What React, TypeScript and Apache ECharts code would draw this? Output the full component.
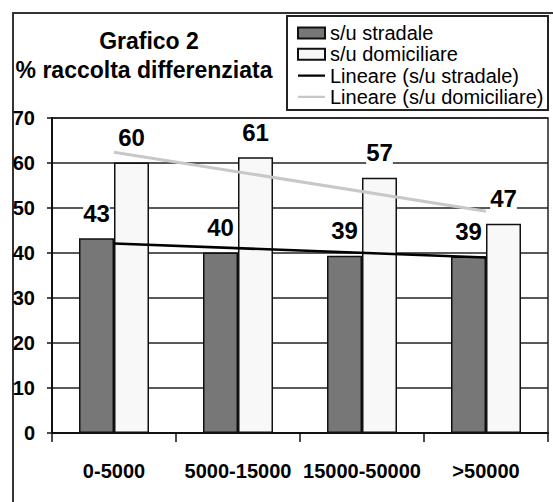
import React, { useEffect, useRef } from "react";
import * as echarts from "echarts";

const categories = ["0-5000", "5000-15000", "15000-50000", ">50000"];
const stradale = [43.3, 40.1, 39.4, 39.2];
const domiciliare = [60.1, 61.3, 56.7, 46.5];
// linear trendlines: value at first and last category
const trendStradale = [42.1, null, null, 39.0];
const trendDomiciliare = [62.4, null, null, 49.3];
const yTicks = { min: 0, max: 70, interval: 10 };
const seriesNames = [
  "s/u stradale",
  "s/u domiciliare",
  "Lineare (s/u stradale)",
  "Lineare (s/u domiciliare)",
];

const FONT = "'Liberation Sans', Arial, sans-serif";
const LINE_ICON =
  "path://M0,0 L0.01,0 L0,0 Z M0,4.3 L27,4.3 L27,6.7 L0,6.7 Z M27,11 L26.99,11 L27,11 Z";

export default function App() {
  const ref = useRef<HTMLDivElement>(null);
  useEffect(() => {
    if (!ref.current) return;
    const chart = echarts.init(ref.current, null, { renderer: "svg" });
    const barLabel = {
      show: true,
      position: "top",
      distance: 13,
      fontSize: 24,
      fontWeight: "bold",
      fontFamily: FONT,
      color: "#000",
      backgroundColor: "#fff",
      formatter: (p: any) => String(Math.round(p.value)),
    };
    chart.setOption({
      animation: false,
      backgroundColor: "#fff",
      textStyle: { fontFamily: FONT },
      graphic: [
        {
          type: "rect",
          z: -10,
          shape: { x: 13, y: 13, width: 600, height: 600 },
          style: { fill: "none", stroke: "#333", lineWidth: 2 },
        },
        {
          type: "rect",
          z: 1,
          shape: { x: 287, y: 16, width: 261, height: 94 },
          style: { fill: "#fff", stroke: "#222", lineWidth: 2 },
        },
        {
          type: "text",
          x: 149,
          y: 41,
          style: {
            text: "Grafico 2",
            font: `bold 23px ${FONT}`,
            fill: "#000",
            align: "center",
            verticalAlign: "middle",
          },
        },
        {
          type: "text",
          x: 144,
          y: 70,
          style: {
            text: "% raccolta differenziata",
            font: `bold 23px ${FONT}`,
            fill: "#000",
            align: "center",
            verticalAlign: "middle",
          },
        },
      ],
      legend: {
        orient: "vertical",
        left: 297,
        top: 23,
        padding: 0,
        itemWidth: 27,
        itemHeight: 11,
        itemGap: 1.3,
        z: 5,
        textStyle: { fontSize: 20, color: "#000", fontFamily: FONT },
        data: [
          { name: seriesNames[0], icon: "rect" },
          { name: seriesNames[1], icon: "rect" },
          { name: seriesNames[2], icon: LINE_ICON },
          { name: seriesNames[3], icon: LINE_ICON },
        ],
      },
      grid: {
        left: 52,
        right: 5,
        top: 118,
        bottom: 69,
        show: true,
        borderColor: "#222",
        borderWidth: 1.5,
        backgroundColor: "transparent",
      },
      xAxis: {
        type: "category",
        data: categories,
        axisLine: { lineStyle: { color: "#111", width: 2 } },
        axisTick: { show: true, length: 9, lineStyle: { color: "#111", width: 1.5 } },
        axisLabel: {
          fontSize: 20,
          fontWeight: "bold",
          color: "#000",
          margin: 28,
          fontFamily: FONT,
          interval: 0,
        },
      },
      yAxis: {
        type: "value",
        min: yTicks.min,
        max: yTicks.max,
        interval: yTicks.interval,
        axisLine: { show: true, lineStyle: { color: "#111", width: 2 } },
        axisTick: { show: true, length: 5, lineStyle: { color: "#111", width: 1.5 } },
        axisLabel: {
          fontSize: 20,
          fontWeight: "bold",
          color: "#000",
          margin: 17,
          fontFamily: FONT,
        },
        splitLine: { show: true, lineStyle: { color: "#222", width: 1.5 } },
      },
      series: [
        {
          name: seriesNames[0],
          type: "bar",
          data: stradale,
          barWidth: 35,
          barGap: "0%",
          itemStyle: { color: "#777777", borderColor: "#111", borderWidth: 1.5 },
          label: barLabel,
        },
        {
          name: seriesNames[1],
          type: "bar",
          data: domiciliare,
          barWidth: 35,
          barGap: "0%",
          itemStyle: { color: "#f8f8f8", borderColor: "#111", borderWidth: 1.5 },
          label: barLabel,
        },
        {
          name: seriesNames[2],
          type: "line",
          data: trendStradale,
          connectNulls: true,
          symbol: "none",
          z: 4,
          lineStyle: { color: "#000", width: 2.5 },
          itemStyle: { color: "#000" },
        },
        {
          name: seriesNames[3],
          type: "line",
          data: trendDomiciliare,
          connectNulls: true,
          symbol: "none",
          z: 4,
          lineStyle: { color: "#c8c8c8", width: 3 },
          itemStyle: { color: "#c8c8c8" },
        },
      ],
    });
    return () => chart.dispose();
  }, []);
  return (
    <div
      ref={ref}
      style={{ position: "fixed", left: 0, top: 0, width: 553, height: 502, background: "#fff" }}
    />
  );
}
